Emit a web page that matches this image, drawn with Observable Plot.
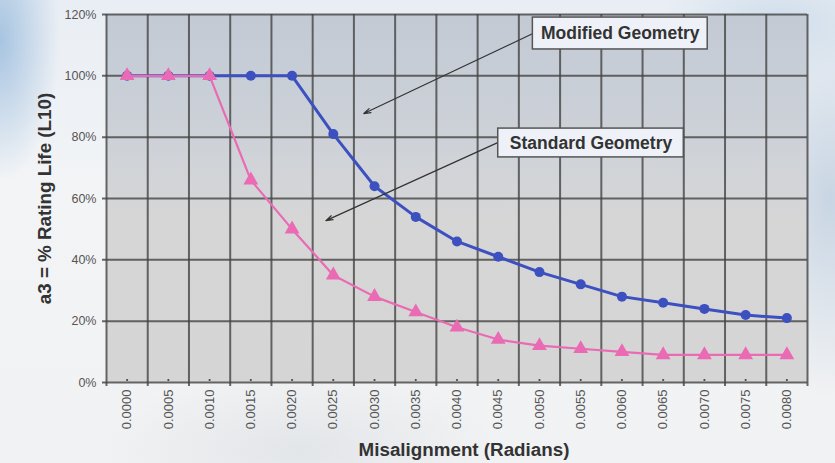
<!DOCTYPE html>
<html>
<head>
<meta charset="utf-8">
<script src="https://cdn.jsdelivr.net/npm/d3@7"></script>
<script src="https://cdn.jsdelivr.net/npm/@observablehq/plot@0.6"></script>
<style>
  html, body { margin: 0; padding: 0; }
  body {
    width: 835px; height: 463px; overflow: hidden;
    background:
      radial-gradient(ellipse 60px 140px at 0px 40px, rgba(150,185,220,0.8), rgba(150,185,220,0) 100%),
      radial-gradient(ellipse 120px 60px at 780px 20px, rgba(205,220,235,0.9), rgba(205,220,235,0) 100%),
      radial-gradient(ellipse 90px 200px at 830px 200px, rgba(190,205,222,0.8), rgba(190,205,222,0) 100%),
      radial-gradient(ellipse 200px 80px at 300px 450px, rgba(225,228,232,0.9), rgba(225,228,232,0) 100%),
      linear-gradient(180deg, #e9eef4 0%, #f2f4f6 40%, #f1f2f3 100%);
    font-family: "Liberation Sans", Arial, sans-serif;
  }
  #chart { position: absolute; left: 0; top: 0; }
</style>
</head>
<body>
<div id="chart"></div>
<script>
// Misalignment categories (radians)
const misalignment = [0.0000, 0.0005, 0.0010, 0.0015, 0.0020, 0.0025, 0.0030, 0.0035, 0.0040,
                      0.0045, 0.0050, 0.0055, 0.0060, 0.0065, 0.0070, 0.0075, 0.0080];
// a3 = % rating life (L10)
const modifiedGeometry = [100, 100, 100, 100, 100, 81, 64, 54, 46, 41, 36, 32, 28, 26, 24, 22, 21];
const standardGeometry = [100, 100, 100, 66, 50, 35, 28, 23, 18, 14, 12, 11, 10, 9, 9, 9, 9];
const yTicks = [0, 20, 40, 60, 80, 100, 120];
// Callout labels (box and arrow given in data units)
const callouts = [
  {label: "Modified Geometry", bx1: 0.00492, bx2: 0.00704, by1: 108.6, by2: 119.0,
   ax1: 0.00492, ay1: 113.8, ax2: 0.00287, ay2: 87.7},
  {label: "Standard Geometry", bx1: 0.00450, bx2: 0.00675, by1: 73.4, by2: 82.8,
   ax1: 0.00450, ay1: 78.3, ax2: 0.00241, ay2: 52.8}
];

const half = 0.00025;
const boundaries = d3.range(misalignment.length + 1).map(i => misalignment[0] - half + i * 0.0005);
const modRows = misalignment.map((x, i) => ({x, y: modifiedGeometry[i]}));
const stdRows = misalignment.map((x, i) => ({x, y: standardGeometry[i]}));

const gridColor = "#444";

const plot = Plot.plot({
  width: 835,
  height: 463,
  marginLeft: 106,
  marginRight: 28,
  marginTop: 14,
  marginBottom: 81,
  style: {background: "transparent", fontFamily: "'Liberation Sans', Arial, sans-serif"},
  x: {type: "linear", domain: [misalignment[0] - half, misalignment[misalignment.length - 1] + half]},
  y: {domain: [0, 120]},
  marks: [
    Plot.frame({fill: "url(#plotbg)", stroke: "none"}),
    Plot.ruleX(boundaries, {stroke: gridColor, strokeWidth: 2, strokeOpacity: 0.8, insetBottom: -4}),
    Plot.ruleY(yTicks, {stroke: gridColor, strokeWidth: 2, strokeOpacity: 0.8, insetLeft: -4}),
    Plot.axisY({ticks: yTicks, tickFormat: d => d + "%", tickSize: 0, tickPadding: 10,
                fontSize: 12.5, color: "#555", label: null}),
    Plot.axisX({ticks: misalignment, tickFormat: d => d.toFixed(4), tickSize: 0, tickPadding: 7,
                tickRotate: -90, fontSize: 13, color: "#555", label: null}),
    Plot.dot(misalignment, {x: d => d, y: 0, r: 1.1, dy: -2.5, fill: "#444"}),
    Plot.line(modRows, {x: "x", y: "y", stroke: "#3d50c0", strokeWidth: 3}),
    Plot.dot(modRows, {x: "x", y: "y", r: 5, fill: "#3d50c0"}),
    Plot.line(stdRows, {x: "x", y: "y", stroke: "#ea6ab4", strokeWidth: 2.2}),
    Plot.dot(stdRows, {x: "x", y: "y", symbol: "triangle", r: 5.5, fill: "#ea6ab4"}),
    Plot.arrow(callouts, {x1: "ax1", y1: "ay1", x2: "ax2", y2: "ay2", stroke: "#333",
                          strokeWidth: 1.2, headLength: 9, headAngle: 35}),
    Plot.rect(callouts, {x1: "bx1", x2: "bx2", y1: "by1", y2: "by2", fill: "#eef2f8",
                         stroke: "#555", strokeWidth: 1.5}),
    Plot.text(callouts, {x: d => (d.bx1 + d.bx2) / 2, y: d => (d.by1 + d.by2) / 2, text: "label",
                         fontSize: 17.5, fontWeight: "bold", fill: "#333"}),
    Plot.text(["Misalignment (Radians)"], {frameAnchor: "bottom", dy: 73, dx: 7, fontSize: 18.8,
                                           fontWeight: "bold", fill: "#333"}),
    Plot.text(["a3 = % Rating Life (L10)"], {frameAnchor: "left", dx: -62, rotate: -90, fontSize: 18.8,
                                             textAnchor: "middle", fontWeight: "bold", fill: "#333"})
  ]
});

const defs = d3.select(plot).insert("defs", ":first-child");
const g = defs.append("linearGradient").attr("id", "plotbg").attr("x1", 0).attr("y1", 0).attr("x2", 0).attr("y2", 1);
g.append("stop").attr("offset", "0%").attr("stop-color", "#c3cad4");
g.append("stop").attr("offset", "30%").attr("stop-color", "#ccd1d8");
g.append("stop").attr("offset", "55%").attr("stop-color", "#d6d6d7");
g.append("stop").attr("offset", "100%").attr("stop-color", "#d5d5d5");

document.getElementById("chart").append(plot);
</script>
</body>
</html>
